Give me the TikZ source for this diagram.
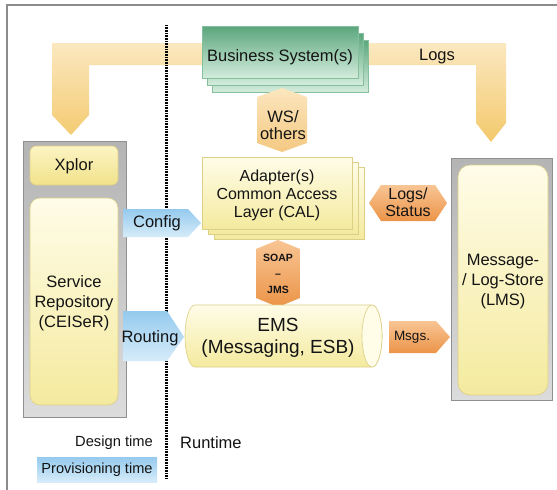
\documentclass[tikz,border=0pt]{standalone}
\usepackage{fontspec}
\setmainfont{Liberation Sans}
\definecolor{txtc}{HTML}{141414}
\definecolor{framec}{HTML}{8C8C8C}
\definecolor{bandtop}{HTML}{FBE8C0}
\definecolor{bandbot}{HTML}{F3C96C}
\definecolor{gtop}{HTML}{5AA67C}
\definecolor{gbot}{HTML}{D3ECDC}
\definecolor{gedge}{HTML}{86BF9C}
\definecolor{ytop}{HTML}{FFFCE8}
\definecolor{ybot}{HTML}{F4EA9E}
\definecolor{yedge}{HTML}{DCCF86}
\definecolor{xtop}{HTML}{FCF4C4}
\definecolor{xbot}{HTML}{F1E28A}
\definecolor{graytop}{HTML}{B4B4B4}
\definecolor{graybot}{HTML}{DCDCDC}
\definecolor{btop}{HTML}{95CAEE}
\definecolor{bbot}{HTML}{D6ECF9}
\definecolor{wstop}{HTML}{FBE6BE}
\definecolor{wsbot}{HTML}{F4C982}
\definecolor{otop}{HTML}{F8C594}
\definecolor{obot}{HTML}{EC9448}
\tikzset{
  txt/.style={text=txtc, align=center, inner sep=0pt,
    font=\fontsize{16.5}{20}\selectfont},
  grn/.style={top color=gtop, bottom color=gbot, draw=gedge, line width=0.6pt},
  ylw/.style={top color=ytop, bottom color=ybot, draw=yedge, line width=0.6pt},
  xlw/.style={top color=xtop, bottom color=xbot, draw=yedge, line width=0.6pt},
  gry/.style={top color=graytop, bottom color=graybot, draw=graytop!80!black, line width=0.4pt},
  blu/.style={top color=btop, bottom color=bbot},
  org/.style={top color=otop, bottom color=obot},
  wsc/.style={top color=wstop, bottom color=wsbot},
  dotline/.style={line width=3pt, black, dash pattern=on 1pt off 0.6pt},
}
\begin{document}
\begin{tikzpicture}[x=1pt,y=-1pt]
\useasboundingbox (0,0) rectangle (557,490);
\fill[white] (0,0) rectangle (557,490);

% outer frame
\draw[framec, line width=1.2pt] (7,490) -- (7,5) -- (557,5);

% Logs band from the business systems to both stores
\shade[top color=bandtop, bottom color=bandbot]
  (71,135) -- (52,115) -- (52,43) -- (506,43) -- (506,123) -- (491,142)
  -- (476,123) -- (476,65) -- (89,65) -- (89,115) -- cycle;

% design time / runtime separator
\coordinate (dtop) at (166,25);
\coordinate (dbot) at (166,478);
\draw[dotline] (dtop) -- (dbot);

% left column: Xplor and service repository
\shade[gry] (23,141) rectangle (126,417);
\shade[xlw, rounded corners=6pt] (30,146) rectangle (118,185);
\shade[ylw, rounded corners=10pt] (30,198) rectangle (118,405);
\node[txt] (xplor) at (74,166) {Xplor};
\node[txt] (ceiser) at (74,303) {Service\\Repository\\(CEISeR)};

% right column: message / log store
\shade[gry] (451,158) rectangle (552,400);
\shade[ylw, rounded corners=12pt] (458,165) rectangle (548,395);
\node[txt] (lms) at (503,282) {Message-\\/ Log-Store\\(LMS)};

% business systems stack
\shade[grn] (212,40) rectangle (368,92);
\shade[grn] (207,33) rectangle (363,85);
\shade[grn] (202,26) rectangle (358,78);
\node[txt] (bs) at (280,57) {Business System(s)};
\node[txt] (logs) at (437,57) {Logs};

% WS / others interface
\shade[wsc] (282,88) -- (307,97) -- (307,143) -- (282,152) -- (257,143) -- (257,97) -- cycle;
\node[txt, font=\fontsize{16.5}{17}\selectfont] (ws) at (283,125) {WS/\\others};

% adapter stack
\shade[ylw] (214,167) rectangle (364,239);
\shade[ylw] (208,162) rectangle (358,234);
\shade[ylw] (202,157) rectangle (352,229);
\node[txt, font=\fontsize{16}{18}\selectfont] (cal) at (277,195) {Adapter(s)\\Common Access\\Layer (CAL)};

% logs / status exchange
\shade[org] (369,203) -- (381,185) -- (435,185) -- (447,203) -- (435,221) -- (381,221) -- cycle;
\node[txt, font=\fontsize{16}{17}\selectfont] (logstat) at (408,202) {Logs/\\Status};

% SOAP - JMS interface
\shade[org] (278,240) -- (300,249) -- (300,298) -- (278,307) -- (256,298) -- (256,249) -- cycle;
\node[txt, font=\fontsize{10.5}{16}\selectfont\bfseries] (soap) at (278,274) {SOAP\\--\\JMS};

% EMS cylinder
\shade[ylw] (195,305) -- (372,305) arc[start angle=-90, end angle=90, x radius=10, y radius=31]
  -- (195,367) arc[start angle=90, end angle=270, x radius=10, y radius=31] -- cycle;
\filldraw[fill=ytop, draw=yedge, line width=0.6pt] (372,336) ellipse[x radius=10, y radius=31];
\node[txt, font=\fontsize{19}{22}\selectfont] (ems) at (278,338) {EMS\\(Messaging, ESB)};

% provisioning arrows
\shade[blu] (123,209) -- (188,209) -- (201,223) -- (188,237) -- (123,237) -- cycle;
\node[txt] (config) at (157,223) {Config};
\shade[blu] (123,311) -- (167,311) -- (184,337) -- (167,361) -- (123,361) -- cycle;
\node[txt] (routing) at (150,338) {Routing};

% messages to the store
\shade[org] (389,321) -- (436,321) -- (450,337) -- (436,353) -- (389,353) -- cycle;
\node[txt, font=\fontsize{13.5}{15}\selectfont] (msgs) at (412,337) {Msgs.};

% legend
\node[txt, font=\fontsize{14.7}{17}\selectfont, anchor=east] (design) at (153,443) {Design time};
\node[txt, font=\fontsize{16.5}{19}\selectfont, anchor=west] (runtime) at (180,443) {Runtime};
\shade[blu] (37,457) rectangle (157,482);
\node[txt, font=\fontsize{14.6}{17}\selectfont] (prov) at (97,470) {Provisioning time};
\end{tikzpicture}
\end{document}
